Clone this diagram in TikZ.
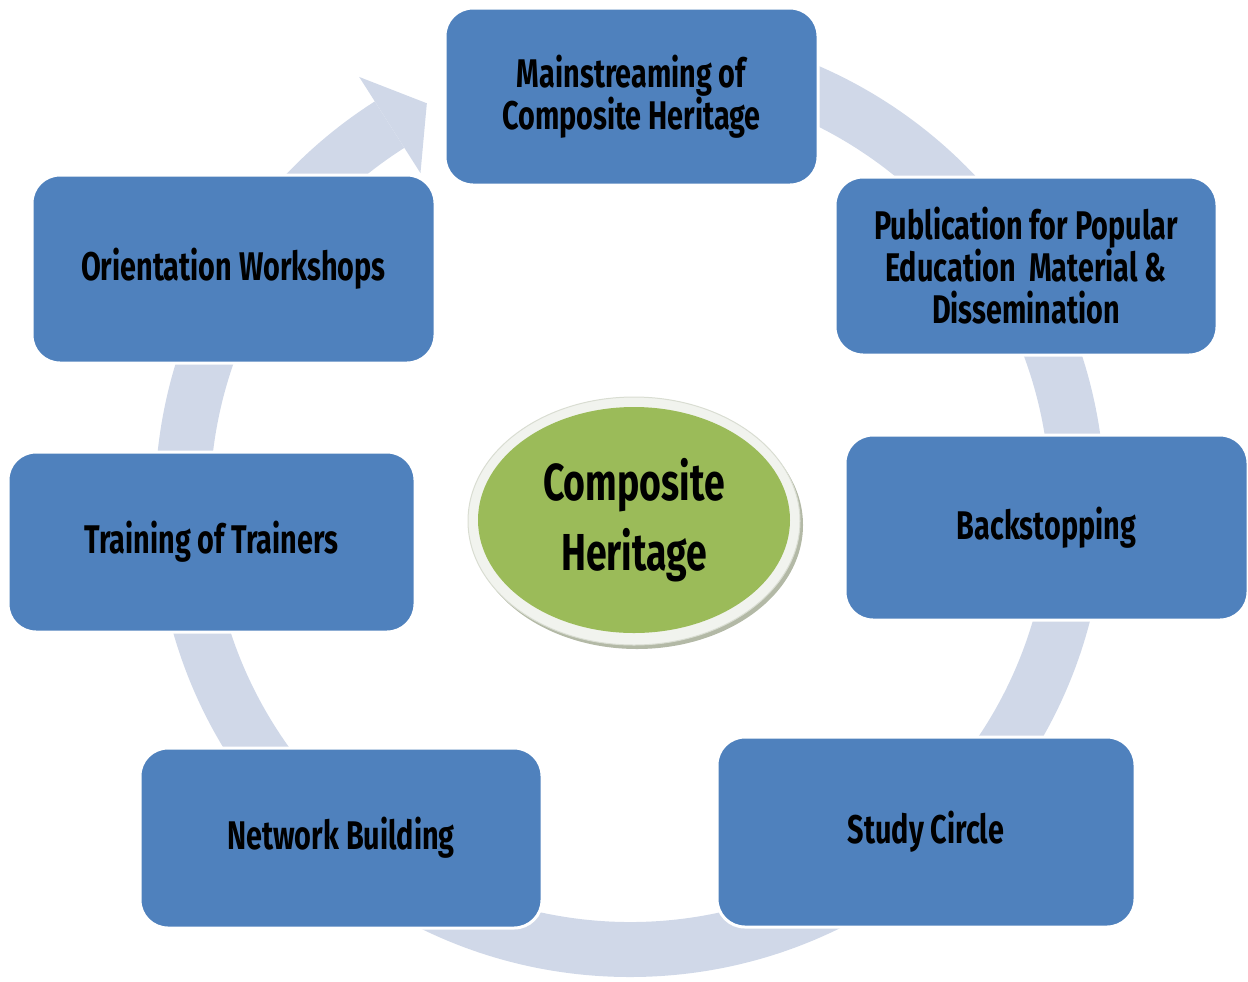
\documentclass[tikz,border=0pt]{standalone}
\usepackage{fontspec}
\setmainfont{Fira Sans}[FakeStretch=0.72]
\usetikzlibrary{shapes.geometric}
\definecolor{boxblue}{HTML}{4F81BD}
\definecolor{ringcol}{HTML}{D0D8E8}
\definecolor{leaf}{HTML}{9BBB59}
\definecolor{rimcol}{HTML}{F1F3EE}
\definecolor{rimline}{HTML}{D9DDD2}
\definecolor{shadowcol}{HTML}{B3B9A6}
\begin{document}
\begin{tikzpicture}[x=0.5pt,y=-0.5pt,
  stagebox/.style={draw=white, line width=1.5pt, fill=boxblue, rounded corners=14pt,
    align=center, inner sep=0pt, text=black,
    font=\bfseries\fontsize{20}{21}\selectfont},
  hub/.style={ellipse, fill=leaf, inner sep=0pt, align=center, text=black,
    font=\bfseries\fontsize{26}{35}\selectfont},
  ringfill/.style={fill=ringcol}]
\useasboundingbox (0,0) rectangle (1248,981);
% circular arrow ring
\fill[ringfill, shift={(630,502)}]
  (-90:475) arc[start angle=-90, end angle=237.5, radius=475]
  -- (237.5:420) arc[start angle=237.5, end angle=-90, radius=420] -- cycle;
\fill[ringfill, shift={(630,502)}]
  (237.5:504) -- (243:447.5) -- (237.5:390) -- cycle;
% boxes
\node[stagebox, minimum width=186.5pt, minimum height=88.5pt] (main) at (631.5,96.5)
  {Mainstreaming of\\Composite Heritage};
\node[stagebox, minimum width=191pt, minimum height=89pt] (pub) at (1026,266)
  {Publication for Popular\\Education~~Material~\&\\Dissemination};
\node[stagebox, minimum width=201.5pt, minimum height=92.5pt] (back) at (1046.5,527.5)
  {Backstopping};
\node[stagebox, minimum width=209pt, minimum height=95pt] (study) at (926,832)
  {Study Circle};
\node[stagebox, minimum width=201pt, minimum height=90pt] (net) at (341,838)
  {Network Building};
\node[stagebox, minimum width=203.5pt, minimum height=90pt] (train) at (211.5,542)
  {Training of Trainers};
\node[stagebox, minimum width=201.5pt, minimum height=94pt] (orient) at (233.5,269)
  {Orientation Workshops};
% central ellipse
\fill[shadowcol] (637,525) ellipse[x radius=166, y radius=124];
\filldraw[fill=rimcol, draw=rimline, line width=0.5pt] (634,521) ellipse[x radius=166, y radius=124];
\node[hub, minimum width=156pt, minimum height=113pt] (core) at (634,520)
  {Composite\\Heritage};
\end{tikzpicture}
\end{document}
